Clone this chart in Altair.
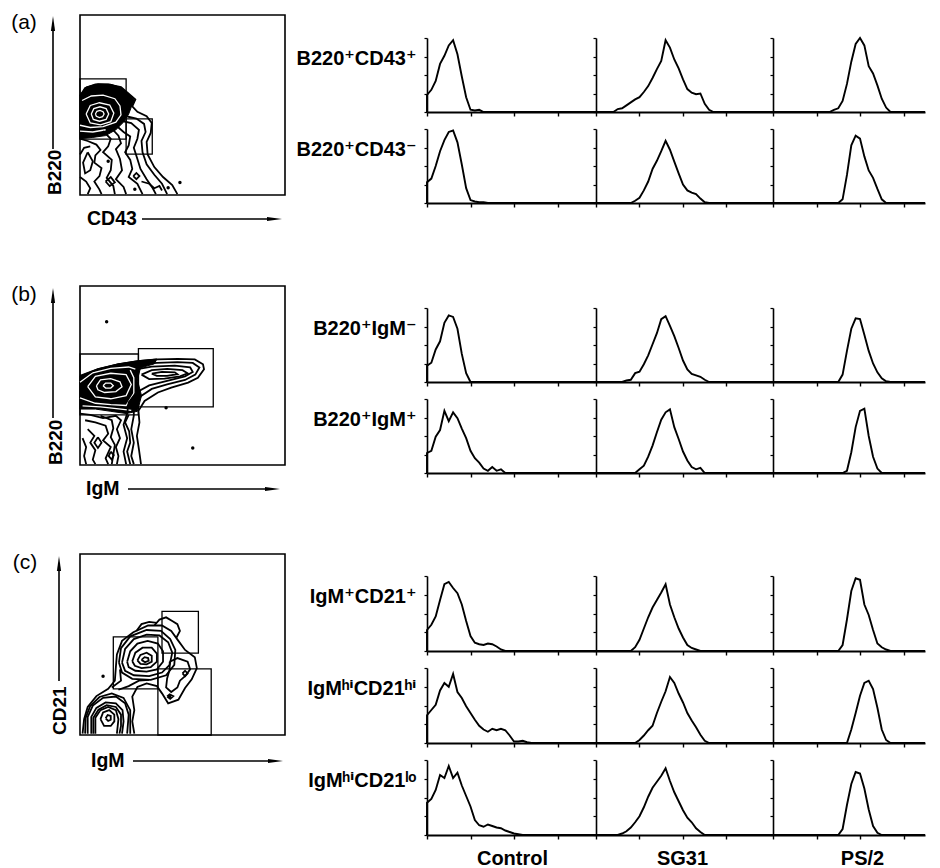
import altair as alt
import pandas as pd

FONT = "Liberation Sans, Arial, DejaVu Sans"

# ---------------- text ----------------
PANEL_TAGS = ["(a)", "(b)", "(c)"]
X_LABELS = ["CD43", "IgM", "IgM"]
Y_LABELS = ["B220", "B220", "CD21"]
COLUMNS = ["Control", "SG31", "PS/2"]
ROW_LABELS = ["B220⁺CD43⁺", "B220⁺CD43⁻", "B220⁺IgM⁻", "B220⁺IgM⁺",
              "IgM⁺CD21⁺", "IgMʰⁱCD21ʰⁱ", "IgMʰⁱCD21ˡᵒ"]

# ------------- histograms: (first decade, % of max every 0.1 decade) -------------
STEP = 0.1
A1_CONTROL = (0.0, [23, 30, 42, 65, 76, 90, 97, 78, 48, 20, 3, 2, 3, 0])
A1_SG31 = (0.4, [0, 4, 5, 9, 13, 17, 20, 27, 35, 46, 58, 69, 97, 87, 71, 59, 44, 31, 26, 24, 25, 11, 3, 0])
A1_PS2 = (1.3, [0, 3, 5, 15, 38, 68, 92, 100, 90, 62, 52, 36, 18, 6, 0])
A2_CONTROL = (0.0, [28, 33, 50, 70, 85, 96, 98, 82, 52, 20, 4, 2, 1, 1, 0])
A2_SG31 = (0.8, [0, 3, 7, 17, 29, 46, 57, 70, 84, 72, 56, 40, 25, 17, 14, 12, 6, 1, 0])
A2_PS2 = (1.5, [0, 5, 38, 78, 91, 87, 63, 44, 34, 19, 5, 0])
B1_CONTROL = (0.0, [22, 26, 44, 55, 80, 90, 88, 72, 38, 12, 0])
B1_SG31 = (0.6, [0, 2, 3, 12, 14, 24, 36, 51, 66, 85, 89, 76, 62, 46, 29, 17, 11, 9, 7, 3, 0])
B1_PS2 = (1.5, [0, 10, 42, 72, 86, 85, 64, 42, 25, 13, 5, 1, 0])
B2_CONTROL = (0.0, [27, 30, 49, 58, 84, 70, 82, 74, 60, 47, 30, 20, 14, 6, 3, 8, 3, 5, 0])
B2_SG31 = (0.9, [0, 5, 10, 22, 37, 55, 72, 82, 86, 62, 46, 29, 17, 8, 5, 7, 0])
B2_PS2 = (1.6, [0, 3, 28, 62, 84, 87, 50, 22, 6, 0])
C1_CONTROL = (0.0, [28, 35, 46, 68, 89, 92, 84, 77, 62, 40, 20, 11, 9, 8, 10, 9, 6, 2, 0])
C1_SG31 = (0.8, [0, 5, 15, 30, 45, 58, 68, 78, 89, 62, 45, 30, 18, 8, 4, 2, 0])
C1_PS2 = (1.5, [0, 8, 42, 80, 97, 95, 62, 48, 28, 10, 5, 2, 0])
C2_CONTROL = (0.0, [37, 44, 51, 70, 80, 75, 92, 68, 60, 49, 40, 31, 23, 18, 15, 19, 17, 19, 17, 10, 2, 2, 3, 1, 0])
C2_SG31 = (0.9, [0, 4, 10, 17, 23, 40, 55, 69, 88, 80, 66, 54, 40, 30, 21, 11, 3, 0])
C2_PS2 = (1.7, [0, 18, 40, 63, 80, 83, 72, 47, 18, 4, 0])
C3_CONTROL = (0.0, [43, 48, 60, 80, 76, 92, 76, 83, 66, 52, 38, 20, 13, 11, 14, 12, 10, 9, 6, 4, 2, 1, 0])
C3_SG31 = (0.5, [0, 2, 5, 10, 17, 25, 37, 51, 63, 71, 79, 89, 72, 57, 45, 33, 23, 17, 9, 4, 0])
C3_PS2 = (1.5, [0, 8, 40, 68, 84, 82, 62, 34, 12, 3, 0])

HIST_ROWS = [
    [A1_CONTROL, A1_SG31, A1_PS2],
    [A2_CONTROL, A2_SG31, A2_PS2],
    [B1_CONTROL, B1_SG31, B1_PS2],
    [B2_CONTROL, B2_SG31, B2_PS2],
    [C1_CONTROL, C1_SG31, C1_PS2],
    [C2_CONTROL, C2_SG31, C2_PS2],
    [C3_CONTROL, C3_SG31, C3_PS2],
]

# ------------- contour plots (log decades, 0-4 on both axes) -------------
A_LINES = [
    [(0, 2.2), (0.1, 2.38), (0.3, 2.46), (0.55, 2.46), (0.8, 2.4), (0.95, 2.25), (1.08, 2.12), (1.02, 1.97),
     (1.12, 1.85), (1.3, 1.75), (1.4, 1.6), (1.38, 1.38), (1.3, 1.18), (1.32, 0.9), (1.45, 0.62), (1.62, 0.4),
     (1.8, 0.22), (1.9, 0.02)],
    [(0.9, 1.75), (1.1, 1.7), (1.25, 1.58), (1.28, 1.4), (1.2, 1.2), (1.22, 0.95), (1.3, 0.68), (1.45, 0.45),
     (1.6, 0.25), (1.7, 0.02)],
    [(0.8, 1.65), (1.0, 1.6), (1.15, 1.45), (1.12, 1.25), (1.05, 1.05), (1.12, 0.8), (1.18, 0.58), (1.3, 0.35),
     (1.42, 0.15), (1.48, 0.02)],
    [(0.7, 1.55), (0.85, 1.4), (0.98, 1.3), (0.95, 1.1), (0.88, 0.95), (0.98, 0.78), (1.02, 0.58), (0.95, 0.4),
     (1.12, 0.25), (1.22, 0.02)],
    [(0.6, 1.5), (0.75, 1.32), (0.8, 1.15), (0.7, 1.02), (0.78, 0.8), (0.82, 0.55), (0.7, 0.35), (0.85, 0.18),
     (0.9, 0.02)],
    [(0.45, 1.42), (0.6, 1.25), (0.55, 1.08), (0.45, 0.95), (0.62, 0.78), (0.6, 0.55), (0.52, 0.38), (0.65, 0.2),
     (0.68, 0.02)],
    [(0.0, 1.25), (0.15, 1.2), (0.32, 1.12), (0.4, 1.0), (0.3, 0.88), (0.28, 0.72), (0.42, 0.6), (0.38, 0.42),
     (0.28, 0.3), (0.38, 0.12), (0.42, 0.02)],
    [(0.15, 0.95), (0.25, 0.75), (0.2, 0.55), (0.1, 0.48), (0.06, 0.72), (0.15, 0.95)],
    [(0.0, 0.4), (0.12, 0.3), (0.2, 0.15), (0.15, 0.02)],
    [(0.0, 0.9), (0.08, 1.05), (0.2, 1.08)],
    [(1.04, 0.42), (1.1, 0.49), (1.16, 0.42), (1.1, 0.35), (1.04, 0.42)],
    [(1.2, 0.3), (1.35, 0.25), (1.45, 0.15), (1.55, 0.2), (1.6, 0.1)],
    [(0.5, 0.3), (0.6, 0.4), (0.68, 0.28), (0.58, 0.2), (0.5, 0.3)],
]
A_FILL = [[(0, 2.22), (0.12, 2.4), (0.35, 2.47), (0.6, 2.46), (0.82, 2.38), (0.97, 2.22), (1.07, 2.1), (1.0, 1.95),
           (0.95, 1.8), (0.85, 1.62), (0.7, 1.45), (0.5, 1.32), (0.25, 1.28), (0, 1.25), (0, 2.22)]]
A_HOLES = [
    [(0.3, 1.8), (0.33, 1.86), (0.39, 1.88), (0.45, 1.85), (0.47, 1.8), (0.44, 1.74), (0.38, 1.72), (0.32, 1.75), (0.3, 1.8)],
    [(0.22, 1.8), (0.27, 1.92), (0.39, 1.96), (0.51, 1.92), (0.56, 1.8), (0.51, 1.68), (0.38, 1.64), (0.26, 1.68), (0.22, 1.8)],
    [(0.12, 1.8), (0.2, 1.99), (0.38, 2.05), (0.58, 2.0), (0.66, 1.82), (0.6, 1.63), (0.4, 1.56), (0.2, 1.6), (0.12, 1.8)],
    [(0.0, 1.55), (0.2, 1.5), (0.45, 1.52), (0.7, 1.62), (0.8, 1.78), (0.78, 1.98), (0.68, 2.14), (0.45, 2.22),
     (0.22, 2.2), (0.04, 2.1)],
    [(0.0, 1.42), (0.25, 1.4), (0.5, 1.45)],
]
A_GATES = [(0.0, 0.9, 1.24, 2.58), (0.9, 1.41, 0.91, 1.69)]
A_DOTS = [(1.07, 0.13), (1.72, 0.16), (0.55, 0.75), (1.95, 0.28)]

B_LINES = [
    [(0, 1.99), (0.35, 2.14), (0.74, 2.25), (1.13, 2.32), (1.52, 2.36), (1.91, 2.37), (2.24, 2.36), (2.4, 2.25),
     (2.42, 2.14), (2.3, 1.95), (2.11, 1.84), (1.78, 1.73), (1.52, 1.62), (1.26, 1.43), (1.14, 1.21), (1.16, 0.95),
     (1.11, 0.65), (1.15, 0.35), (1.19, 0.02)],
    [(1.1, 2.24), (1.5, 2.28), (1.9, 2.3), (2.2, 2.28), (2.33, 2.18), (2.25, 2.02), (2.05, 1.9), (1.7, 1.8), (1.4, 1.7),
     (1.2, 1.55), (1.05, 1.35), (1.05, 1.1), (1.0, 0.8), (1.05, 0.5), (1.0, 0.2), (1.05, 0.02)],
    [(1.15, 2.15), (1.4, 2.2), (1.85, 2.22), (2.15, 2.18), (2.2, 2.08), (2.05, 1.98), (1.7, 1.88), (1.35, 1.78),
     (1.1, 1.62), (0.95, 1.4), (0.92, 1.15), (0.85, 0.9), (0.92, 0.6), (0.85, 0.3), (0.9, 0.02)],
    [(1.2, 2.02), (1.4, 2.12), (1.7, 2.15), (2.0, 2.12), (2.1, 2.05), (1.95, 1.98), (1.65, 1.93), (1.35, 1.92), (1.2, 2.02)],
    [(1.4, 2.04), (1.6, 2.08), (1.85, 2.07), (1.9, 2.03), (1.7, 1.99), (1.5, 1.99), (1.4, 2.04)],
    [(0, 1.15), (0.2, 1.12), (0.45, 1.05), (0.7, 1.1), (0.8, 1.0), (0.72, 0.8), (0.78, 0.6), (0.7, 0.4), (0.75, 0.2), (0.72, 0.02)],
    [(0.1, 1.0), (0.3, 0.95), (0.5, 0.88), (0.55, 0.7), (0.45, 0.55), (0.6, 0.4), (0.5, 0.15), (0.55, 0.02)],
    [(0.15, 0.8), (0.28, 0.65), (0.2, 0.5), (0.3, 0.33), (0.25, 0.12), (0.3, 0.02)],
    [(0.35, 0.62), (0.42, 0.5), (0.35, 0.38), (0.28, 0.5), (0.35, 0.62)],
    [(0.05, 0.6), (0.12, 0.4), (0.08, 0.2), (0.12, 0.02)],
    [(0.6, 0.3), (0.66, 0.22), (0.62, 0.12), (0.56, 0.2), (0.6, 0.3)],
    [(0.95, 1.12), (0.88, 0.95), (0.96, 0.75), (0.98, 0.5), (0.92, 0.3), (0.98, 0.02)],
    [(0.4, 1.1), (0.62, 1.0), (0.65, 0.82), (0.6, 0.62), (0.68, 0.45), (0.62, 0.02)],
]
B_FILL = [[(0, 1.99), (0.35, 2.15), (0.74, 2.26), (1.13, 2.33), (1.5, 2.37), (1.45, 2.26), (1.18, 2.17), (1.12, 1.9),
           (1.2, 1.55), (1.12, 1.2), (0.9, 1.15), (0.6, 1.2), (0.3, 1.25), (0, 1.25), (0, 1.99)]]
B_HOLES = [
    [(0.45, 1.77), (0.5, 1.83), (0.6, 1.83), (0.65, 1.77), (0.6, 1.72), (0.5, 1.72), (0.45, 1.77)],
    [(0.32, 1.77), (0.4, 1.9), (0.6, 1.93), (0.78, 1.86), (0.82, 1.75), (0.7, 1.64), (0.48, 1.62), (0.35, 1.68), (0.32, 1.77)],
    [(0.15, 1.75), (0.3, 1.98), (0.6, 2.05), (0.9, 2.02), (1.0, 1.8), (0.9, 1.55), (0.6, 1.48), (0.3, 1.52), (0.15, 1.75)],
    [(0.0, 1.5), (0.3, 1.38), (0.6, 1.35), (0.9, 1.33), (1.05, 1.6), (1.05, 1.95), (0.98, 2.12)],
    [(0.0, 1.85), (0.25, 2.06), (0.6, 2.16), (0.95, 2.19), (1.08, 2.14)],
    [(0.05, 1.32), (0.4, 1.3), (0.8, 1.25), (1.0, 1.22)],
]
B_GATES = [(0.0, 1.14, 1.12, 2.48), (1.14, 2.6, 1.3, 2.6)]
B_DOTS = [(1.68, 1.28), (0.52, 3.2), (2.2, 0.38)]

C_LINES = [
    [(0.05, 0.03), (0.08, 0.35), (0.15, 0.62), (0.32, 0.86), (0.55, 1.02), (0.68, 1.2), (0.7, 1.5), (0.72, 1.78),
     (0.82, 2.08), (1.04, 2.27), (1.33, 2.42), (1.6, 2.42), (1.78, 2.3), (1.92, 2.08), (2.05, 1.88), (2.24, 1.72),
     (2.28, 1.48), (2.18, 1.23), (2.05, 1.04), (1.92, 0.78), (1.72, 0.7), (1.6, 0.92), (1.5, 1.08), (1.3, 1.14),
     (1.12, 1.06), (1.02, 0.85), (1.06, 0.55), (1.02, 0.3), (1.06, 0.03)],
    [(0.76, 1.6), (0.8, 1.92), (0.98, 2.18), (1.3, 2.32), (1.58, 2.3), (1.76, 2.12), (1.86, 1.88), (1.84, 1.55),
     (1.68, 1.32), (1.38, 1.22), (1.02, 1.24), (0.82, 1.38), (0.76, 1.6)],
    [(0.82, 1.6), (0.88, 1.9), (1.05, 2.12), (1.3, 2.22), (1.55, 2.2), (1.72, 2.05), (1.8, 1.82), (1.75, 1.55),
     (1.6, 1.38), (1.35, 1.3), (1.05, 1.32), (0.88, 1.42), (0.82, 1.6)],
    [(0.92, 1.62), (0.98, 1.85), (1.12, 2.02), (1.32, 2.08), (1.52, 2.02), (1.62, 1.85), (1.62, 1.62), (1.5, 1.45),
     (1.3, 1.4), (1.08, 1.42), (0.95, 1.5), (0.92, 1.62)],
    [(1.02, 1.63), (1.08, 1.82), (1.22, 1.93), (1.4, 1.93), (1.5, 1.8), (1.5, 1.62), (1.38, 1.5), (1.2, 1.48),
     (1.07, 1.53), (1.02, 1.63)],
    [(1.12, 1.65), (1.18, 1.77), (1.3, 1.82), (1.4, 1.75), (1.4, 1.62), (1.3, 1.56), (1.18, 1.57), (1.12, 1.65)],
    [(1.2, 1.66), (1.26, 1.72), (1.33, 1.7), (1.34, 1.64), (1.27, 1.61), (1.2, 1.66)],
    [(1.75, 1.62), (1.9, 1.7), (2.1, 1.62), (2.15, 1.45), (2.05, 1.3), (1.95, 1.2), (1.9, 1.05), (1.78, 0.95),
     (1.68, 1.05), (1.7, 1.25), (1.75, 1.45), (1.75, 1.62)],
    [(1.7, 0.85), (1.75, 0.9), (1.82, 0.86), (1.76, 0.8), (1.7, 0.85)],
    [(2.0, 1.36), (2.05, 1.42), (2.1, 1.36), (2.05, 1.3), (2.0, 1.36)],
    [(1.45, 2.42), (1.55, 2.55), (1.68, 2.6), (1.8, 2.52), (1.9, 2.45), (1.95, 2.3), (1.88, 2.15)],
    [(1.1, 2.3), (1.2, 2.45), (1.35, 2.5), (1.5, 2.48)],
    [(0.1, 0.03), (0.11, 0.38), (0.2, 0.64), (0.38, 0.84), (0.62, 0.92), (0.85, 0.82), (0.98, 0.55), (0.98, 0.03)],
    [(0.15, 0.03), (0.15, 0.4), (0.25, 0.65), (0.45, 0.82), (0.7, 0.85), (0.88, 0.7), (0.95, 0.45), (0.92, 0.03)],
    [(0.22, 0.03), (0.22, 0.4), (0.32, 0.6), (0.5, 0.72), (0.7, 0.7), (0.83, 0.55), (0.85, 0.3), (0.82, 0.03)],
    [(0.26, 0.03), (0.26, 0.38), (0.36, 0.56), (0.52, 0.66), (0.7, 0.62), (0.8, 0.45), (0.8, 0.2), (0.77, 0.03)],
    [(0.3, 0.03), (0.3, 0.38), (0.4, 0.55), (0.55, 0.62), (0.7, 0.55), (0.75, 0.35), (0.72, 0.03)],
    [(0.4, 0.35), (0.45, 0.5), (0.57, 0.55), (0.67, 0.45), (0.67, 0.3), (0.6, 0.2), (0.47, 0.2), (0.4, 0.35)],
    [(0.5, 0.37), (0.54, 0.44), (0.6, 0.42), (0.6, 0.34), (0.55, 0.31), (0.5, 0.37)],
    [(0.75, 1.0), (0.95, 1.08), (1.15, 1.2), (1.35, 1.22)],
    [(0.62, 1.05), (0.8, 1.2), (0.78, 1.45)],
]
C_FILL = []
C_HOLES = []
C_GATES = [(0.65, 1.52, 1.02, 2.17), (1.6, 2.31, 1.81, 2.73), (1.52, 2.56, 0.0, 1.46)]
C_DOTS = [(0.45, 1.3), (1.75, 0.85)]

CONTOURS = [
    (A_LINES, A_FILL, A_HOLES, A_GATES, A_DOTS),
    (B_LINES, B_FILL, B_HOLES, B_GATES, B_DOTS),
    (C_LINES, C_FILL, C_HOLES, C_GATES, C_DOTS),
]

# ---------------- layout (pixels) ----------------
CW = 205                      # contour plot width
CELL0_W = 347                 # contour column incl. gap up to the histograms
COL_WIDTHS = [169, 177, 152]
PX_PER_DECADE = 43.5
COL_TITLE_X = [85, 86, 89]
ROW_SPACING = 17
# grid rows: ("h", hist row index, height) or ("gap", height)
GRID = [("h", 0, 74), ("h", 1, 74), ("gap", 71), ("h", 2, 74), ("h", 3, 74), ("gap", 69),
        ("h", 4, 75), ("h", 5, 75), ("h", 6, 75)]
CONTOUR_AT = {0: 0, 2: 1, 4: 2}          # hist row -> contour panel that starts there
BOX = [(-23, 157), (-22, 157), (-22, 159)]   # contour box top / bottom relative to its grid row
DECO = [
    dict(tagx=-56, tagy=8, ax=-27, ay0=1, ay1=134, tx=-25, xt=7, xty=24, xa0=62, xa1=202),
    dict(tagx=-56, tagy=9, ax=-27, ay0=2, ay1=132, tx=-24, xt=6, xty=24, xa0=48, xa1=200),
    dict(tagx=-55, tagy=9, ax=-21, ay0=2, ay1=127, tx=-20, xt=11, xty=26, xa0=53, xa1=203),
]
UP = "M -0.28 1 L 0 -1 L 0.28 1 Z"
RIGHT = "M -1 -0.28 L 1 0 L -1 0.28 Z"

ONE = pd.DataFrame({"k": [0]})


def ring_frame(rings):
    rows = []
    for k, pts in enumerate(rings):
        for i, (x, y) in enumerate(pts):
            rows.append({"x": x, "y": y, "ring": k, "i": i})
    return pd.DataFrame(rows)


def contour_panel(k, cell_h):
    lines, fills, holes, gates, dots = CONTOURS[k]
    d = DECO[k]
    top, bottom = BOX[k]
    xs = alt.Scale(domain=[0, 4], range=[0, CW], nice=False, zero=False)
    ys = alt.Scale(domain=[0, 4], range=[bottom, top], nice=False, zero=False)
    xaxis = alt.Axis(values=[0, 1, 2, 3, 4], labels=False, tickSize=3, tickWidth=1.2, tickColor="black",
                     domainColor="black", domainWidth=2, grid=False, title=None, offset=bottom - cell_h)
    yaxis = alt.Axis(values=[0, 1, 2, 3, 4], labels=False, tickSize=3, tickWidth=1.2, tickColor="black",
                     domainColor="black", domainWidth=2, grid=False, title=None)
    X = lambda f: alt.X(f, scale=xs, axis=None)
    Y = lambda f: alt.Y(f, scale=ys, axis=None)
    frame = pd.DataFrame({"x1": [0], "x2": [4], "y1": [0], "y2": [4]})
    layers = [
        alt.Chart(frame).mark_rect(fillOpacity=0, stroke="black", strokeWidth=1.6).encode(
            x=alt.X("x1:Q", scale=xs, axis=xaxis), x2="x2:Q",
            y=alt.Y("y1:Q", scale=ys, axis=yaxis), y2="y2:Q"),
    ]
    gdf = pd.DataFrame(gates, columns=["x1", "x2", "y1", "y2"])
    layers.append(alt.Chart(gdf).mark_rect(fillOpacity=0, stroke="black", strokeWidth=1.3).encode(
        x=X("x1:Q"), x2="x2:Q", y=Y("y1:Q"), y2="y2:Q"))

    def lyr(df, **mk):
        return alt.Chart(df).mark_line(**mk).encode(
            x=X("x:Q"), y=Y("y:Q"), detail="ring:N", order="i:Q")

    if fills:
        layers.append(lyr(ring_frame(fills), fill="black", stroke="black", strokeWidth=1, color="black"))
    if holes:
        layers.append(lyr(ring_frame(holes), stroke="white", strokeWidth=1.3, color="white"))
    layers.append(lyr(ring_frame(lines), stroke="black", strokeWidth=1.8, color="black"))
    ddf = pd.DataFrame(dots, columns=["x", "y"])
    layers.append(alt.Chart(ddf).mark_circle(size=12, color="black", opacity=1).encode(x=X("x:Q"), y=Y("y:Q")))

    # decorations: panel tag, axis names and axis arrows
    def txt(s, x, y, **mk):
        return alt.Chart(ONE).mark_text(text=s, font=FONT, color="black", baseline="middle", **mk).encode(
            x=alt.value(x), y=alt.value(y))

    layers.append(txt(PANEL_TAGS[k], d["tagx"], top + d["tagy"], fontSize=21, align="center"))
    layers.append(txt(X_LABELS[k], d["xt"], bottom + d["xty"], fontSize=19.5, fontWeight="bold", align="left"))
    layers.append(txt(Y_LABELS[k], d["tx"], bottom, fontSize=19, fontWeight="bold", align="left", angle=270))
    layers.append(alt.Chart(ONE).mark_rule(color="black", strokeWidth=1.6).encode(
        x=alt.value(d["ax"]), y=alt.value(top + d["ay0"] + 8), y2=alt.value(top + d["ay1"])))
    layers.append(alt.Chart(ONE).mark_point(shape=UP, filled=True, size=225, color="black", opacity=1,
                                            strokeWidth=0).encode(
        x=alt.value(d["ax"]), y=alt.value(top + d["ay0"] + 7.5)))
    ya = bottom + d["xty"]
    layers.append(alt.Chart(ONE).mark_rule(color="black", strokeWidth=1.6).encode(
        x=alt.value(d["xa0"]), x2=alt.value(d["xa1"] - 8), y=alt.value(ya)))
    layers.append(alt.Chart(ONE).mark_point(shape=RIGHT, filled=True, size=225, color="black", opacity=1,
                                            strokeWidth=0).encode(
        x=alt.value(d["xa1"] - 7.5), y=alt.value(ya)))
    return alt.layer(*layers).properties(width=CELL0_W, height=cell_h)


def hist_panel(series, col, label, bottom, h):
    start, vals = series
    end = round(COL_WIDTHS[col] / PX_PER_DECADE, 3)
    xs = [0.0] + [round(start + STEP * i, 2) for i in range(len(vals))] + [end]
    ys = [0] + list(vals) + [0]
    df = pd.DataFrame({"x": xs, "y": ys, "i": list(range(len(xs)))})
    xkw = dict(values=[0, 1, 2, 3], labels=False, tickSize=4, tickWidth=1.4, tickColor="black",
               domainColor="black", domainWidth=2.2, grid=False)
    if bottom:
        xaxis = alt.Axis(title=COLUMNS[col], titleX=COL_TITLE_X[col], titleY=23, titleAlign="center",
                         titleBaseline="middle", titleFont=FONT, titleFontSize=20, titleFontWeight="bold",
                         titleColor="black", **xkw)
    else:
        xaxis = alt.Axis(title=None, **xkw)
    ykw = dict(values=[0, 25, 50, 75, 100], labels=False, tickSize=3, tickWidth=1.2, tickColor="black",
               domainColor="black", domainWidth=1.6, grid=False)
    if label:
        yaxis = alt.Axis(title=label, titleAngle=0, titleX=-11, titleY=20, titleAlign="right",
                         titleBaseline="middle", titleFont=FONT, titleFontSize=20, titleFontWeight="bold",
                         titleColor="black", **ykw)
    else:
        yaxis = alt.Axis(title=None, **ykw)
    return alt.Chart(df).mark_line(color="black", strokeWidth=1.9).encode(
        x=alt.X("x:Q", scale=alt.Scale(domain=[0, end], nice=False, zero=False), axis=xaxis),
        y=alt.Y("y:Q", scale=alt.Scale(domain=[0, 100], nice=False, zero=False), axis=yaxis),
        order="i:Q",
    ).properties(width=COL_WIDTHS[col], height=h)


def spacer(h):
    return alt.Chart(ONE).mark_text(text="").encode(x=alt.value(0), y=alt.value(0)).properties(width=1, height=h)


cells = []
for item in GRID:
    if item[0] == "gap":
        cells += [spacer(item[1]) for _ in range(4)]
        continue
    _, r, h = item
    cells.append(contour_panel(CONTOUR_AT[r], h) if r in CONTOUR_AT else spacer(h))
    for c in range(3):
        cells.append(hist_panel(HIST_ROWS[r][c], c, ROW_LABELS[r] if c == 0 else None, r == 6, h))

chart = alt.concat(*cells, columns=4, spacing={"row": ROW_SPACING, "column": 0}, bounds="flush").properties(
    padding={"left": 3, "top": 4, "right": 2, "bottom": 0}
).configure(font=FONT).configure_view(stroke=None)

chart.save("out.html", embed_options={"renderer": "svg", "actions": False})
